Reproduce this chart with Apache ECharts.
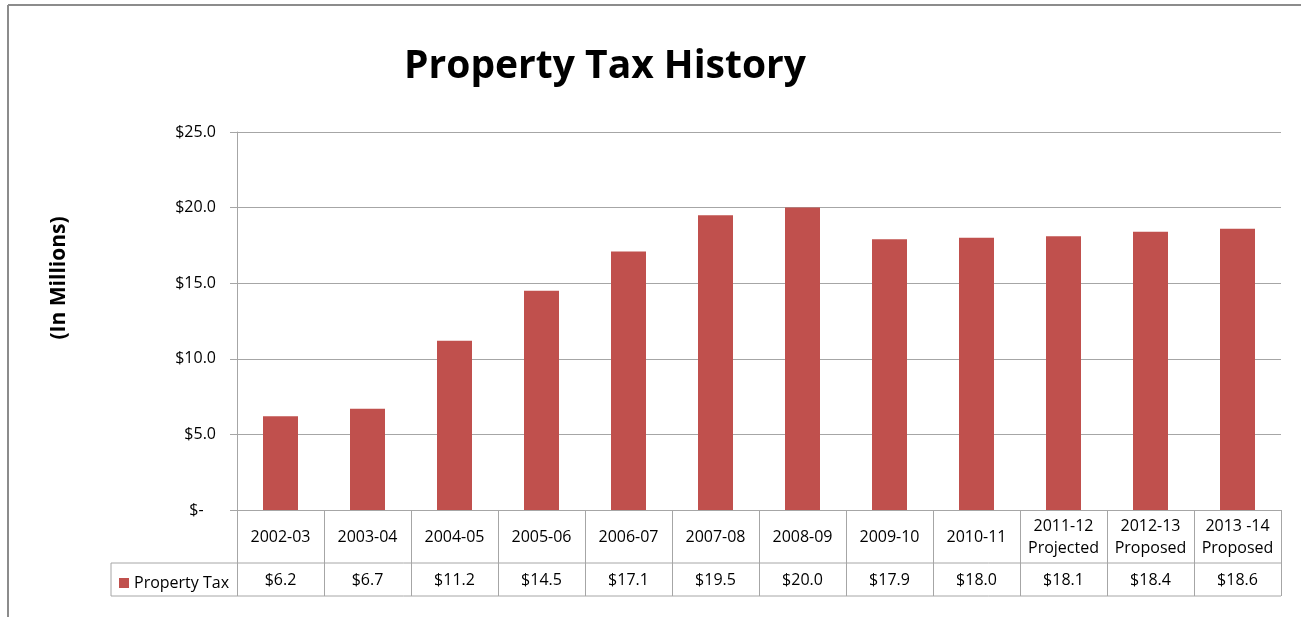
<!DOCTYPE html>
<html><head><meta charset="utf-8">
<script src="https://cdn.jsdelivr.net/npm/echarts@6/dist/echarts.min.js"></script>
<style>html,body{margin:0;padding:0;background:#fff}#c{width:1301px;height:617px}</style>
</head><body><div id="c"></div>
<script>
var categories = ['2002-03','2003-04','2004-05','2005-06','2006-07','2007-08','2008-09','2009-10','2010-11','2011-12\nProjected','2012-13\nProposed','2013 -14\nProposed'];
var propertyTax = [6.2, 6.7, 11.2, 14.5, 17.1, 19.5, 20.0, 17.9, 18.0, 18.1, 18.4, 18.6];
var yTicks = [0, 5, 10, 15, 20, 25];
var seriesName = 'Property Tax';
var yAxisTitle = '(In Millions)';

var FONT = '"Open Sans", Lato, sans-serif';
var G = {left: 237, right: 20, top: 132, bottom: 107};
var W = 1301, H = 617;
var gridBottomY = H - G.bottom;      // 510
var row1 = 53, row2 = 33;
var tableLeft = 111;
var lineColor = '#a6a6a6';
var FS = 16;
function fmtMoney(v){ return v === 0 ? '$-   ' : '$' + v.toFixed(1); }

var chart = echarts.init(document.getElementById('c'), null, {renderer: 'canvas'});
chart.setOption({
  animation: false,
  title: {
    text: 'Property Tax History', left: 600, top: 42, textAlign: 'center',
    textStyle: {fontFamily: FONT, fontWeight: 'bold', fontSize: 39, color: '#000'}
  },
  legend: {
    data: [seriesName], left: tableLeft + 3, top: gridBottomY + row1 + 7,
    icon: 'rect', itemWidth: 10, itemHeight: 10, itemGap: 4,
    textStyle: {fontFamily: FONT, fontSize: FS, color: '#000', padding: [0,0,0,0]}
  },
  grid: {left: G.left, right: G.right, top: G.top, bottom: G.bottom, containLabel: false},
  xAxis: [{
    type: 'category', data: categories, position: 'bottom',
    axisLine: {show: true, lineStyle: {color: lineColor}},
    axisTick: {show: true, length: row1 + row2, lineStyle: {color: lineColor}},
    axisLabel: {fontFamily: FONT, fontSize: FS, color: '#000', verticalAlign: 'middle', margin: 27, lineHeight: 22, interval: 0}
  }, {
    type: 'category', data: categories, position: 'bottom', offset: row1,
    axisLine: {show: false}, axisTick: {show: false},
    axisLabel: {fontFamily: FONT, fontSize: FS, color: '#000', verticalAlign: 'middle', margin: 17, interval: 0,
      formatter: function(v, i){ return fmtMoney(propertyTax[i]); }}
  }],
  yAxis: {
    type: 'value', min: yTicks[0], max: yTicks[yTicks.length-1], interval: 5,
    axisLine: {show: true, lineStyle: {color: lineColor}},
    axisTick: {show: true, length: 7, lineStyle: {color: lineColor}},
    axisLabel: {fontFamily: FONT, fontSize: FS, color: '#000', margin: 21, formatter: fmtMoney},
    splitLine: {show: true, lineStyle: {color: lineColor}}
  },
  series: [{
    name: seriesName, type: 'bar', data: propertyTax, barWidth: 35,
    itemStyle: {color: '#C0504D'}
  }],
  graphic: [
    {type: 'text', x: 59, y: 278, rotation: Math.PI / 2,
      style: {text: yAxisTitle, fontFamily: FONT, fontWeight: 'bold', fontSize: 21, fill: '#000', align: 'center', verticalAlign: 'middle'}},
    {type: 'line', shape: {x1: tableLeft, y1: gridBottomY + row1, x2: W - G.right, y2: gridBottomY + row1}, style: {stroke: lineColor, lineWidth: 1}},
    {type: 'line', shape: {x1: tableLeft, y1: gridBottomY + row1 + row2, x2: W - G.right, y2: gridBottomY + row1 + row2}, style: {stroke: lineColor, lineWidth: 1}},
    {type: 'line', shape: {x1: tableLeft, y1: gridBottomY + row1, x2: tableLeft, y2: gridBottomY + row1 + row2}, style: {stroke: lineColor, lineWidth: 1}},
    {type: 'line', shape: {x1: 8, y1: 5, x2: W, y2: 5}, style: {stroke: '#8c8c8c', lineWidth: 2}},
    {type: 'line', shape: {x1: 8, y1: 5, x2: 8, y2: H}, style: {stroke: '#8c8c8c', lineWidth: 2}}
  ]
});
</script></body></html>
